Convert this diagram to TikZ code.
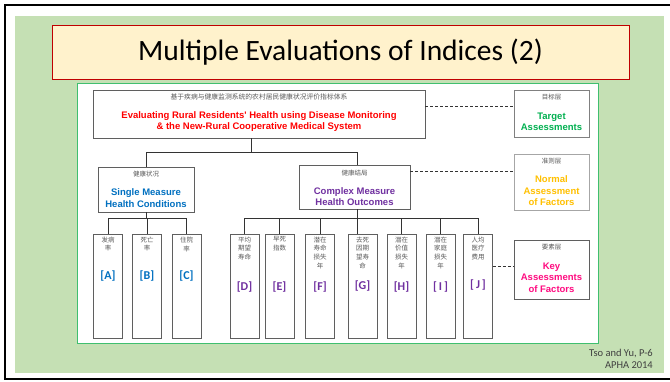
\documentclass[tikz,border=0pt]{standalone}
\usepackage{fontspec}
\setmainfont{Carlito}
\newfontfamily\arialfont{Liberation Sans}
\newfontfamily\zhfont{Noto Sans CJK SC}
\usetikzlibrary{positioning}

\definecolor{panelgreen}{HTML}{C5E0B4}
\definecolor{framegreen}{HTML}{3FBF6F}
\definecolor{titlefill}{HTML}{FFF2CC}
\definecolor{titlered}{HTML}{C00000}
\definecolor{evalred}{HTML}{FF0000}
\definecolor{measblue}{HTML}{0070C0}
\definecolor{measpurple}{HTML}{7030A0}
\definecolor{targetgreen}{HTML}{00B050}
\definecolor{normyellow}{HTML}{FFC000}
\definecolor{keypink}{HTML}{FF0B80}
\definecolor{zhgray}{HTML}{5A5A5A}
\definecolor{boxgray}{HTML}{5F5F5F}
\definecolor{linkgray}{HTML}{333333}
\definecolor{credit}{HTML}{404040}

\begin{document}
\begin{tikzpicture}[x=1pt, y=-1pt,
    box/.style={draw=boxgray, fill=white, line width=0.8pt, inner sep=0pt},
    col/.style={box, minimum width=29pt, minimum height=104pt},
    zh/.style={font=\zhfont\fontsize{6.5}{8.7}\selectfont, text=zhgray, align=center, inner sep=0pt},
    en/.style={font=\arialfont\bfseries\fontsize{9.5}{11.5}\selectfont, align=center, inner sep=0pt},
    letter/.style={font=\bfseries\fontsize{12}{12}\selectfont, inner sep=0pt},
    link/.style={draw=linkgray, line width=0.8pt},
    dotlink/.style={draw=linkgray, line width=0.6pt, dash pattern=on 3pt off 2pt}]
    \useasboundingbox (0,0) rectangle (670,381);
    \draw[line width=2pt] (670,5) -- (5,5) -- (5,379) -- (670,379);
    \fill[panelgreen] (15,16) rectangle (664,373);
    \node[draw=titlered, fill=titlefill, line width=0.8pt, minimum width=577pt, minimum height=54pt,
          inner sep=0pt, font=\fontsize{29.5}{32}\selectfont] (title) at (340.5,52) {Multiple Evaluations of Indices (2)};
    \draw[framegreen, line width=1pt, fill=white] (77,83) rectangle (598,343);

    % goal level
    \node[box, minimum width=332pt, minimum height=48pt] (goal) at (259,114) {};
    \node[zh, font=\zhfont\fontsize{6.8}{8}\selectfont, below=4pt of goal.north] {基于疾病与健康监测系统的农村居民健康状况评价指标体系};
    \node[en, text=evalred] at (259,121.5) {Evaluating Rural Residents' Health using Disease Monitoring\\\& the New-Rural Cooperative Medical System};

    % criteria level
    \node[box, minimum width=96pt, minimum height=45pt] (single) at (146,189.5) {};
    \node[zh, below=4pt of single.north] {健康状况};
    \node[en, text=measblue] at (146,198) {Single Measure\\Health Conditions};
    \node[box, minimum width=111pt, minimum height=44pt] (complex) at (354.5,187) {};
    \node[zh, below=5pt of complex.north] {健康结局};
    \node[en, text=measpurple] at (354.5,196.5) {Complex Measure\\Health Outcomes};

    % layer boxes
    \node[box, draw=gray, minimum width=75pt, minimum height=47pt] (target) at (551.5,113.5) {};
    \node[zh, below=4pt of target.north] {目标层};
    \node[en, text=targetgreen] at (551.5,122) {Target\\Assessments};
    \node[box, draw=gray!70, minimum width=75pt, minimum height=56pt] (normal) at (551.5,182) {};
    \node[zh, below=4pt of normal.north] {准则层};
    \node[en, text=normyellow] at (551.5,191) {Normal\\Assessment\\of Factors};
    \node[box, minimum width=75pt, minimum height=59pt] (key) at (551.5,269.5) {};
    \node[zh, below=4pt of key.north] {要素层};
    \node[en, text=keypink] at (551.5,277.5) {Key\\Assessments\\of Factors};

    % factor columns
    \foreach \n/\x/\zhtext/\lab/\c/\d in {A/108/{发病\\率}/{[A]}/measblue/42,
        B/147/{死亡\\率}/{[B]}/measblue/42, C/186.5/{住院\\率}/{[C]}/measblue/42,
        D/244.5/{平均\\期望\\寿命}/{[D]}/measpurple/53, E/279.5/{早死\\指数}/{[E]}/measpurple/53,
        F/320/{潜在\\寿命\\损失\\年}/{[F]}/measpurple/53, G/362.5/{去死\\因期\\望寿\\命}/{[G]}/measpurple/52,
        H/401.5/{潜在\\价值\\损失\\年}/{[H]}/measpurple/53, I/440.5/{潜在\\家庭\\损失\\年}/{[\,I\,]}/measpurple/53,
        J/478/{人均\\医疗\\费用}/{[\,J\,]}/measpurple/51} {
        \node[col] (\n) at (\x,286) {};
        \node[zh, below=3pt of \n.north] {\zhtext};
        \node[letter, text=\c] at ([yshift=-\d pt]\n.north) {\lab};
    }

    % connectors
    \coordinate (busT) at (0,152);
    \coordinate (busS) at (0,218);
    \draw[link] ([xshift=-8pt]goal.south) -- ([xshift=-8pt]goal.south |- busT);
    \draw[link] (single.north) -- (single.north |- busT) -- ([xshift=2.5pt]complex.north |- busT) -- ([xshift=2.5pt]complex.north);
    \draw[link] (single.south) -- (single.south |- busS);
    \draw[link] (A.north) -- (A.north |- busS) -- (C.north |- busS) -- (C.north);
    \draw[link] (B.north) -- (B.north |- busS);
    \draw[link] ([xshift=2.5pt]complex.south) -- ([xshift=2.5pt]complex.south |- G.north);
    \draw[link] (D.north) -- (D.north |- busS) -- (J.north |- busS) -- (J.north);
    \foreach \n in {E,F,H,I}
        \draw[link] (\n.north) -- (\n.north |- busS);
    \draw[dotlink] ([yshift=8pt]goal.east) -- ([yshift=8pt]goal.east -| target.west);
    \draw[dotlink] ([yshift=16pt]complex.east) -- ([yshift=16pt]complex.east -| normal.west);
    \draw[dotlink] ([yshift=20pt]J.east) -- ([yshift=20pt]J.east -| key.west);

    \node[anchor=east, align=right, text=credit, inner sep=0pt,
          font=\fontsize{10.5}{12}\selectfont] (cite) at (653,359) {Tso and Yu, P-6\\APHA 2014};
\end{tikzpicture}
\end{document}
